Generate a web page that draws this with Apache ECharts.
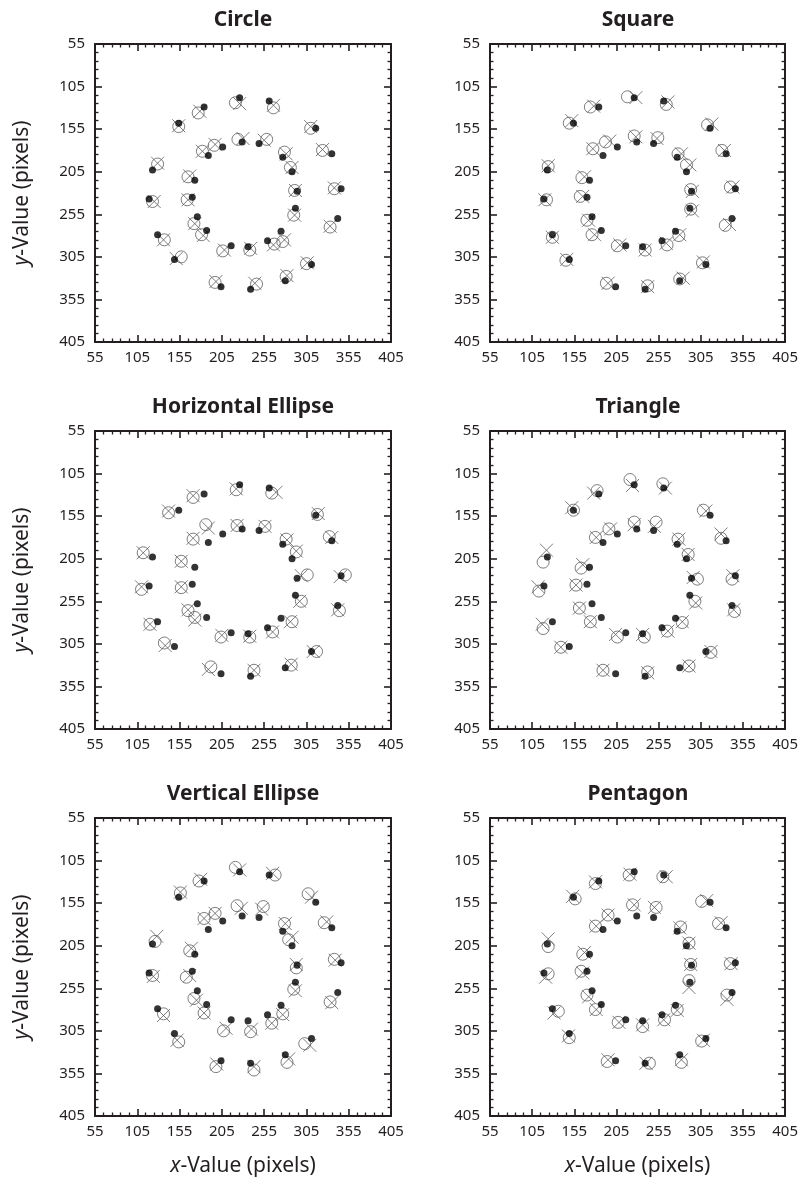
<!DOCTYPE html>
<html>
<head>
<meta charset="utf-8">
<script src="https://cdn.jsdelivr.net/npm/echarts@6/dist/echarts.min.js"></script>
<style>
  html, body { margin: 0; padding: 0; background: #fff; }
  #chart { width: 801px; height: 1184px; }
</style>
</head>
<body>
<div id="chart"></div>
<script>
// six panels, same true positions (black dots), two estimates per shape
const panelTitles = ["Circle", "Square", "Horizontal Ellipse", "Triangle", "Vertical Ellipse", "Pentagon"];
const axisMin = 55;
const axisMax = 405;
const axisStep = 50;

// true positions, shared by every panel
const truePoints = [
  [226,118],[261,122],[184,129],[154,148],[316,154],[229,170],[249,172],[206,176],
  [189,186],[277,188],[335,184],[123,203],[288,205],[173,215],[294,228],[346,225],
  [119,237],[170,235],[292,248],[176,258],[342,260],[129,279],[187,274],[275,275],
  [216,292],[259,286],[236,293],[149,308],[311,314],[204,340],[239,343],[280,333]
];

// open circles
const circleRound = [
  [221,124],[266,130],[177,136],[154,152],[310,154],[224,167],[258,167],[196,174],
  [182,181],[279,182],[324,180],[129,196],[286,200],[165,211],[291,227],[338,225],
  [123,240],[164,238],[290,256],[172,266],[333,270],[137,285],[181,279],[277,287],
  [206,298],[267,290],[238,297],[157,305],[305,313],[197,335],[246,337],[281,328]
];
const squareRound = [
  [218,117],[264,126],[174,129],[149,148],[313,150],[226,163],[254,165],[192,170],
  [177,178],[278,184],[330,180],[124,199],[288,197],[164,212],[293,226],[340,223],
  [122,238],[162,234],[293,249],[170,262],[334,268],[129,282],[176,279],[279,280],
  [206,292],[265,291],[239,297],[145,309],[307,312],[193,336],[242,339],[280,331]
];
const hEllipseRound = [
  [222,124],[264,128],[171,133],[142,151],[318,153],[223,166],[256,167],[186,165],
  [171,182],[281,182],[332,179],[112,198],[293,197],[157,208],[306,224],[351,224],
  [110,241],[157,239],[299,255],[165,266],[344,266],[120,282],[173,274],[288,279],
  [204,297],[265,291],[238,297],[137,304],[317,314],[192,332],[243,336],[287,330]
];
const triangleRound = [
  [221,112],[260,117],[182,125],[154,148],[308,148],[226,162],[252,162],[196,170],
  [180,180],[278,182],[329,181],[118,209],[290,200],[163,216],[301,229],[342,229],
  [113,243],[157,236],[298,255],[161,263],[345,267],[118,287],[174,279],[283,280],
  [206,297],[265,290],[238,297],[139,309],[317,315],[189,336],[242,338],[291,331]
];
const vEllipseRound = [
  [221,113],[268,122],[178,129],[156,143],[307,144],[223,158],[254,159],[197,167],
  [184,173],[279,179],[326,178],[126,200],[284,198],[167,211],[293,231],[338,221],
  [123,240],[163,242],[290,256],[172,267],[333,271],[136,285],[184,284],[277,285],
  [207,305],[264,296],[239,306],[154,318],[303,320],[198,347],[243,351],[282,342]
];
const pentagonRound = [
  [220,122],[260,124],[180,132],[156,150],[306,153],[224,157],[252,160],[195,169],
  [180,182],[281,183],[326,179],[124,206],[291,202],[165,215],[293,227],[340,226],
  [124,238],[163,235],[291,246],[170,263],[336,263],[136,282],[180,280],[277,280],
  [207,295],[262,292],[236,300],[149,313],[306,317],[194,341],[244,343],[282,342]
];

// crosses
const circleCross = [
  [226,125],[266,127],[179,134],[154,151],[310,152],[230,166],[255,168],[197,173],
  [182,181],[281,184],[324,179],[129,195],[288,200],[167,210],[292,227],[338,224],
  [125,240],[165,238],[291,256],[173,266],[333,269],[136,285],[183,280],[279,285],
  [208,297],[266,291],[239,295],[151,307],[306,312],[198,334],[244,336],[282,327]
];
const squareCross = [
  [228,118],[266,123],[178,128],[152,145],[318,149],[228,164],[253,166],[197,169],
  [177,178],[282,184],[333,180],[124,198],[292,197],[167,211],[295,228],[343,223],
  [120,238],[165,234],[295,251],[172,262],[339,267],[129,282],[179,279],[280,279],
  [209,291],[264,289],[239,297],[146,308],[308,311],[195,336],[242,340],[284,330]
];
const hEllipseCross = [
  [222,123],[269,127],[171,131],[142,149],[319,152],[223,166],[256,167],[189,169],
  [171,181],[282,183],[335,180],[112,198],[293,196],[157,208],[299,225],[345,226],
  [110,238],[157,238],[297,255],[165,265],[342,265],[120,282],[173,277],[286,279],
  [205,295],[265,291],[238,296],[138,307],[313,314],[189,335],[243,336],[287,329]
];
const triangleCross = [
  [224,119],[263,122],[178,128],[152,145],[311,149],[226,165],[250,167],[198,170],
  [181,180],[279,182],[329,176],[122,195],[290,200],[165,212],[296,227],[343,225],
  [112,238],[157,236],[299,257],[161,263],[344,265],[117,282],[174,279],[283,279],
  [204,294],[266,290],[236,294],[139,309],[317,314],[189,336],[242,339],[291,331]
];
const vEllipseCross = [
  [226,116],[265,120],[180,127],[156,142],[311,148],[228,161],[252,162],[197,167],
  [184,173],[280,179],[329,177],[128,194],[288,195],[169,208],[293,227],[339,222],
  [124,241],[167,240],[292,258],[175,269],[335,272],[136,287],[184,284],[277,286],
  [210,302],[264,296],[240,303],[152,316],[309,322],[199,344],[243,347],[284,338]
];
const pentagonCross = [
  [221,121],[264,124],[180,130],[153,147],[312,152],[226,157],[250,160],[195,169],
  [181,182],[280,184],[329,178],[124,197],[291,202],[167,213],[293,227],[341,226],
  [121,242],[165,237],[291,254],[172,265],[336,268],[131,284],[181,280],[277,281],
  [208,295],[261,292],[236,298],[148,311],[308,316],[195,339],[240,343],[282,339]
];

const roundSets = [circleRound, squareRound, hEllipseRound, triangleRound, vEllipseRound, pentagonRound];
const crossSets = [circleCross, squareCross, hEllipseCross, triangleCross, vEllipseCross, pentagonCross];

const FONT = "'Noto Sans', 'Open Sans', sans-serif";
const INK = "#231f20";
const colLeft = [95, 490];
const rowTop = [44, 431, 818];
const boxW = 296, boxH = 298;

const chart = echarts.init(document.getElementById("chart"), null, { renderer: "canvas" });

const grids = [], xAxes = [], yAxes = [], series = [], graphics = [];

function axisBase(show, pos, gridIndex) {
  return {
    type: "value",
    gridIndex,
    position: pos,
    min: axisMin,
    max: axisMax,
    interval: axisStep,
    axisLine: { show: true, onZero: false, lineStyle: { color: INK, width: 2 } },
    axisTick: { show: true, inside: true, length: 7, lineStyle: { color: INK, width: 1.6 } },
    minorTick: { show: true, splitNumber: 5, length: 3.5, lineStyle: { color: INK, width: 1.3 } },
    splitLine: { show: false },
    axisLabel: { show, color: INK, fontSize: 15, fontFamily: FONT, margin: 9 },
  };
}

const nameStyle = {
  color: INK, fontSize: 21, fontFamily: FONT,
  rich: { i: { fontStyle: "italic", fontSize: 21, fontFamily: FONT, color: INK } },
};

panelTitles.forEach((title, i) => {
  const col = i % 2, row = Math.floor(i / 2);
  const left = colLeft[col], top = rowTop[row];
  grids.push({ left, top, width: boxW, height: boxH, containLabel: false });

  const xb = axisBase(true, "bottom", i);
  xb.axisLabel.margin = 8;
  if (row === 2) {
    xb.name = "{i|x}-Value (pixels)";
    xb.nameLocation = "middle";
    xb.nameGap = 40;
    xb.nameTextStyle = nameStyle;
  }
  xAxes.push(xb);
  xAxes.push(axisBase(false, "top", i));

  const yl = axisBase(true, "left", i);
  yl.inverse = true;
  yl.axisLabel.margin = 10;
  if (col === 0) {
    yl.name = "{i|y}-Value (pixels)";
    yl.nameLocation = "middle";
    yl.nameRotate = 90;
    yl.nameGap = 62;
    yl.nameTextStyle = nameStyle;
  }
  yAxes.push(yl);
  const yr = axisBase(false, "right", i);
  yr.inverse = true;
  yAxes.push(yr);

  const xi = i * 2, yi = i * 2;
  series.push({
    type: "scatter", xAxisIndex: xi, yAxisIndex: yi, data: roundSets[i],
    symbol: "circle", symbolSize: 12, silent: true,
    itemStyle: { color: "transparent", borderColor: "#5e5e5e", borderWidth: 1 },
  });
  series.push({
    type: "scatter", xAxisIndex: xi, yAxisIndex: yi, data: crossSets[i],
    symbol: "path://M0,0L10,10M10,0L0,10", symbolSize: 13, silent: true,
    itemStyle: { color: "transparent", borderColor: "#5e5e5e", borderWidth: 1 },
  });
  series.push({
    type: "scatter", xAxisIndex: xi, yAxisIndex: yi, data: truePoints,
    symbol: "circle", symbolSize: 7, silent: true,
    itemStyle: { color: "#000" },
  });

  graphics.push({
    type: "text", x: left + boxW / 2, y: top - 24,
    style: {
      text: title, fill: INK, font: "bold 21px " + FONT,
      textAlign: "center", textVerticalAlign: "middle",
    },
  });
});

chart.setOption({
  animation: false,
  backgroundColor: "#fff",
  grid: grids,
  xAxis: xAxes,
  yAxis: yAxes,
  series,
  graphic: graphics,
});
</script>
</body>
</html>
